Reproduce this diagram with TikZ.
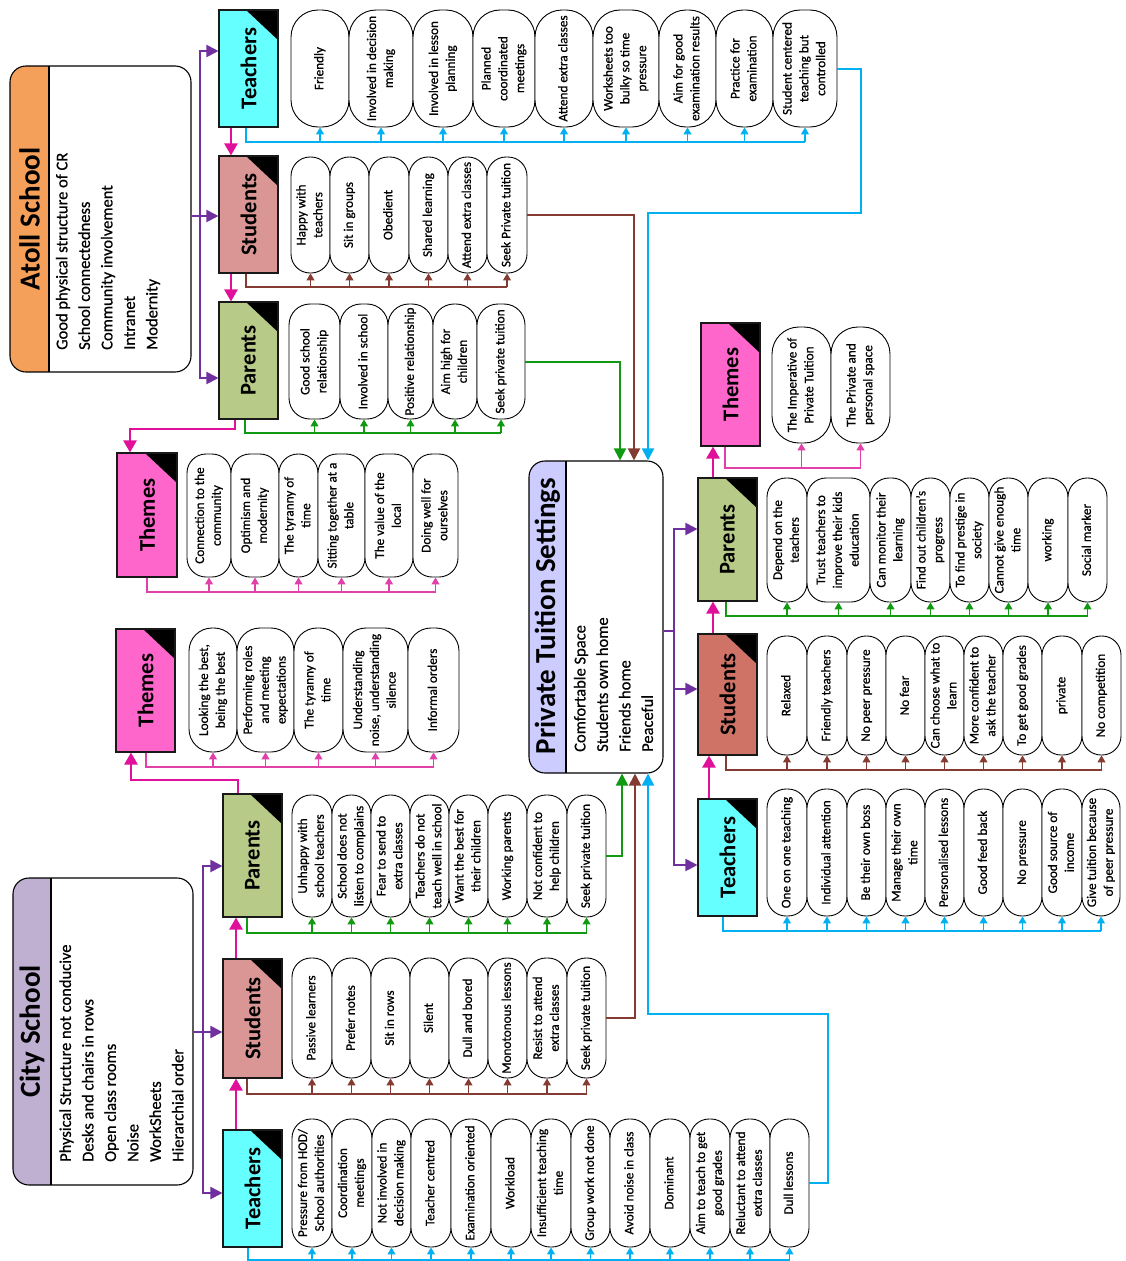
\documentclass[tikz,border=0pt]{standalone}
\usepackage{fontspec}
\setmainfont{Carlito}
\newfontfamily\heavyfam{Carlito}[FakeBold=0.7]
\usetikzlibrary{arrows.meta}
\definecolor{cteach}{HTML}{66FFFF}
\definecolor{cstud}{HTML}{D99694}
\definecolor{cstudP}{HTML}{CF7367}
\definecolor{cpar}{HTML}{B7CA87}
\definecolor{ctheme}{HTML}{FF66CC}
\definecolor{catoll}{HTML}{F5A05A}
\definecolor{ccity}{HTML}{BFB0D2}
\definecolor{cpt}{HTML}{CCCCFF}
\definecolor{lblue}{HTML}{00B0F0}
\definecolor{lbrown}{HTML}{843C32}
\definecolor{lgreen}{HTML}{119911}
\definecolor{lpink}{HTML}{E040A8}
\definecolor{lpurple}{HTML}{7030A0}
\definecolor{lmag}{HTML}{E0109A}
\newcommand\pillfnt{\heavyfam\fontsize{13.2}{16.8}\selectfont}
\newcommand\hdrfnt{\fontsize{22.5}{27}\selectfont\bfseries}
\newcommand\ttlfnt{\fontsize{29}{34}\selectfont\bfseries}
\newcommand\bodyfnt{\heavyfam\fontsize{16.5}{22.5}\selectfont}
\tikzset{
 pill/.style={draw, fill=white, line width=0.9pt, inner sep=0pt, font=\pillfnt},
 hdrbox/.style={draw=black!90, line width=1.1pt, inner sep=0pt, font=\hdrfnt,
   path picture={\fill[black] (path picture bounding box.north east) -- ++(-32,0) -- ++(32,30) -- cycle;}},
 purpA/.style={draw=lpurple, line width=2pt, -{Triangle[width=12pt,length=12pt]}},
 magA/.style={draw=lmag, line width=2.4pt, -{Triangle[width=13pt,length=12pt]}},
 blueA/.style={draw=lblue, line width=2pt, -{Triangle[width=12pt,length=12pt]}},
 brownA/.style={draw=lbrown, line width=2pt, -{Triangle[width=12pt,length=12pt]}},
 greenA/.style={draw=lgreen, line width=2pt, -{Triangle[width=12pt,length=12pt]}},
 tb/.style={draw=lblue, line width=1.1pt},
 sb/.style={draw=lbrown, line width=1.1pt},
 pb/.style={draw=lgreen, line width=1.1pt},
 thb/.style={draw=lpink, line width=1.1pt},
 ttl/.style={rotate=90, font=\ttlfnt, inner sep=0pt},
 body/.style={rotate=90, anchor=west, align=left, inner sep=0pt, font=\bodyfnt}
}
% name, x1, x2, y1, y2, radius, text
\newcommand\pill[7]{\node[pill, rounded corners=#6pt, minimum width={(#3-#2)*1pt}, minimum height={(#5-#4)*1pt}] (#1) at ({(#2+#3)/2},{(#4+#5)/2}) {\rotatebox{90}{\begin{tabular}{@{}c@{}}#7\end{tabular}}};}
% name, x1, y1, x2, y2, colour, text
\newcommand\hdr[7]{\node[hdrbox, fill=#6, minimum width={(#4-#2)*1pt}, minimum height={(#5-#3)*1pt}] (#1) at ({(#2+#4)/2},{(#3+#5)/2}) {\rotatebox{90}{#7}};}
% name, x1, y1, x2, y2, band x, colour
\newcommand\bigbox[7]{\node[draw, line width=1.1pt, rounded corners=16pt, fill=white, inner sep=0pt, minimum width={(#4-#2)*1pt}, minimum height={(#5-#3)*1pt},
 path picture={\fill[#7, sharp corners] (path picture bounding box.north west) rectangle ([xshift={(#6-#2)*1pt}]path picture bounding box.south west);
 \draw[line width=1.1pt, sharp corners] ([xshift={(#6-#2)*1pt}]path picture bounding box.north west) -- ([xshift={(#6-#2)*1pt}]path picture bounding box.south west);}]
 (#1) at ({(#2+#4)/2},{(#3+#5)/2}) {};}
% prefix, count, bus coordinate, style
\newcommand\busrow[4]{\draw[#4] (#1.south -| #3) -- (#3) -- (#1#2.south |- #3);
 \foreach \k in {1,...,#2}{\draw[#4,-{Triangle[width=8pt,length=7pt]}] (#1\k.south |- #3) -- (#1\k.south);}}
\begin{document}
\begin{tikzpicture}[x=1pt,y=-1pt]
\fill[white] (0,0) rectangle (1125,1261);
\useasboundingbox (0,0) rectangle (1125,1261);

% big boxes
\bigbox{atoll}{10}{66}{191}{372}{49}{catoll}
\bigbox{city}{13}{878}{193}{1185}{51}{ccity}
\bigbox{pt}{529}{461}{663}{773}{566}{cpt}
\node[ttl] (atollT) at (29.5,219) {Atoll School};
\node[ttl] (cityT) at (32,1031.5) {City School};
\node[ttl] (ptT) at (547.5,616) {Private Tuition Settings};
\node[body] (atollB) at (108,350) {Good physical structure of CR\\School connectedness\\Community involvement\\Intranet\\Modernity};
\node[body] (cityB) at (121.5,1162) {Physical Structure not conducive\\Desks and chairs in rows\\Open class rooms\\Noise\\WorkSheets\\Hierarchial order};
\node[body] (ptB) at (613.5,752) {Comfortable Space\\Students own home\\Friends home\\Peaceful};

% headers
\hdr{tA}{219}{10}{278}{127}{cteach}{Teachers}
\hdr{sA}{219}{156}{278}{273}{cstud}{Students}
\hdr{pA}{219}{302}{278}{419}{cpar}{Parents}
\hdr{thA}{117}{453}{177}{577}{ctheme}{Themes}
\hdr{thC}{116}{629}{175}{752}{ctheme}{Themes}
\hdr{pC}{223}{794}{282}{917}{cpar}{Parents}
\hdr{sC}{223}{959}{282}{1078}{cstud}{Students}
\hdr{tC}{223}{1130}{282}{1247}{cteach}{Teachers}
\hdr{thP}{701}{323}{760}{446}{ctheme}{Themes}
\hdr{pP}{698}{478}{757}{601}{cpar}{Parents}
\hdr{sP}{698}{634}{757}{755}{cstudP}{Students}
\hdr{tP}{698}{799}{757}{916}{cteach}{Teachers}

% Atoll teachers
\pill{tA1}{291}{349}{10}{127}{27}{Friendly}
\pill{tA2}{349}{413}{10}{127}{27}{Involved in decision\\making}
\pill{tA3}{413}{473}{10}{127}{27}{Involved in lesson\\planning}
\pill{tA4}{473}{535}{10}{127}{27}{Planned\\coordinated\\meetings}
\pill{tA5}{535}{593}{10}{127}{27}{Attend extra classes}
\pill{tA6}{593}{659}{10}{127}{27}{Worksheets too\\bulky so time\\pressure}
\pill{tA7}{659}{716}{10}{127}{27}{Aim for good\\examination results}
\pill{tA8}{716}{773}{10}{127}{27}{Practice for\\examination}
\pill{tA9}{773}{837}{10}{127}{27}{Student centered\\teaching but\\controlled}
% Atoll students
\pill{sA1}{291}{330}{157}{273}{19}{Happy with\\teachers}
\pill{sA2}{330}{369}{157}{273}{19}{Sit in groups}
\pill{sA3}{369}{409}{157}{273}{19}{Obedient}
\pill{sA4}{409}{448}{157}{273}{19}{Shared learning}
\pill{sA5}{448}{487}{157}{273}{19}{Attend extra classes}
\pill{sA6}{487}{527}{157}{273}{19}{Seek Private tuition}
% Atoll parents
\pill{pA1}{289}{340}{304}{419}{21}{Good school\\relationship}
\pill{pA2}{340}{388}{304}{419}{21}{Involved in school}
\pill{pA3}{388}{433}{304}{419}{21}{Positive relationship}
\pill{pA4}{433}{477}{304}{419}{21}{Aim high for\\children}
\pill{pA5}{477}{525}{304}{419}{21}{Seek private tuition}
% Atoll themes
\pill{thA1}{187}{231}{454}{577}{19}{Connection to the\\community}
\pill{thA2}{231}{279}{454}{577}{19}{Optimism and\\modernity}
\pill{thA3}{279}{318}{454}{577}{19}{The tyranny of\\time}
\pill{thA4}{318}{365}{454}{577}{19}{Sitting together at a\\table}
\pill{thA5}{365}{413}{454}{577}{19}{The value of the\\local}
\pill{thA6}{413}{458}{454}{577}{19}{Doing well for\\ourselves}
% City themes
\pill{thC1}{189}{237}{628}{752}{23}{Looking the best,\\being the best}
\pill{thC2}{237}{294}{628}{752}{23}{Performing roles\\and meeting\\expectations}
\pill{thC3}{294}{343}{628}{752}{23}{The tyranny of\\time}
\pill{thC4}{343}{408}{628}{752}{23}{Understanding\\noise, understanding\\silence}
\pill{thC5}{408}{459}{628}{752}{23}{Informal orders}
% City parents
\pill{pC1}{292}{332}{795}{917}{19}{Unhappy with\\school teachers}
\pill{pC2}{332}{371}{795}{917}{19}{School does not\\listen to complains}
\pill{pC3}{371}{410}{795}{917}{19}{Fear to send to\\extra classes}
\pill{pC4}{410}{449}{795}{917}{19}{Teachers do not\\teach well in school}
\pill{pC5}{449}{488}{795}{917}{19}{Want the best for\\their children}
\pill{pC6}{488}{527}{795}{917}{19}{Working parents}
\pill{pC7}{527}{567}{795}{917}{19}{Not confident to\\help children}
\pill{pC8}{567}{606}{795}{917}{19}{Seek private tuition}
% City students
\pill{sC1}{292}{332}{958}{1078}{19}{Passive learners}
\pill{sC2}{332}{371}{958}{1078}{19}{Prefer notes}
\pill{sC3}{371}{410}{958}{1078}{19}{Sit in rows}
\pill{sC4}{410}{449}{958}{1078}{19}{Silent}
\pill{sC5}{449}{488}{958}{1078}{19}{Dull and bored}
\pill{sC6}{488}{527}{958}{1078}{19}{Monotonous lessons}
\pill{sC7}{527}{567}{958}{1078}{19}{Resist to attend\\extra classes}
\pill{sC8}{567}{606}{958}{1078}{19}{Seek private tuition}
% City teachers
\pill{tC1}{292}{332}{1119}{1247}{19}{Pressure from HOD/\\School authorities}
\pill{tC2}{332}{372}{1119}{1247}{19}{Coordination\\meetings}
\pill{tC3}{372}{411}{1119}{1247}{19}{Not involved in\\decision making}
\pill{tC4}{411}{451}{1119}{1247}{19}{Teacher centred}
\pill{tC5}{451}{491}{1119}{1247}{19}{Examination oriented}
\pill{tC6}{491}{531}{1119}{1247}{19}{Workload}
\pill{tC7}{531}{571}{1119}{1247}{19}{Insufficient teaching\\time}
\pill{tC8}{571}{610}{1119}{1247}{19}{Group work not done}
\pill{tC9}{610}{650}{1119}{1247}{19}{Avoid noise in class}
\pill{tC10}{650}{690}{1119}{1247}{19}{Dominant}
\pill{tC11}{690}{730}{1119}{1247}{19}{Aim to teach to get\\good grades}
\pill{tC12}{730}{770}{1119}{1247}{19}{Reluctant to attend\\extra classes}
\pill{tC13}{770}{809}{1119}{1247}{19}{Dull lessons}
% PT themes
\pill{thP1}{772}{831}{327}{443}{27}{The Imperative of\\Private Tuition}
\pill{thP2}{831}{890}{327}{443}{27}{The Private and\\personal space}
% PT parents
\pill{pP1}{767}{807}{478}{602}{19}{Depend on the\\teachers}
\pill{pP2}{807}{870}{478}{602}{19}{Trust teachers to\\improve their kids\\education}
\pill{pP3}{870}{911}{478}{602}{19}{Can monitor their\\learning}
\pill{pP4}{911}{950}{478}{602}{19}{Find out children’s\\progress}
\pill{pP5}{950}{989}{478}{602}{19}{To find prestige in\\society}
\pill{pP6}{989}{1028}{478}{602}{19}{Cannot give enough\\time}
\pill{pP7}{1028}{1068}{478}{602}{19}{working}
\pill{pP8}{1068}{1107}{478}{602}{19}{Social marker}
% PT students
\pill{sP1}{767}{807}{636}{755}{19}{Relaxed}
\pill{sP2}{807}{847}{636}{755}{19}{Friendly teachers}
\pill{sP3}{847}{886}{636}{755}{19}{No peer pressure}
\pill{sP4}{886}{925}{636}{755}{19}{No fear}
\pill{sP5}{925}{964}{636}{755}{19}{Can choose what to\\learn}
\pill{sP6}{964}{1003}{636}{755}{19}{More confident to\\ask the teacher}
\pill{sP7}{1003}{1042}{636}{755}{19}{To get good grades}
\pill{sP8}{1042}{1082}{636}{755}{19}{private}
\pill{sP9}{1082}{1121}{636}{755}{19}{No competition}
% PT teachers
\pill{tP1}{767}{807}{789}{916}{19}{One on one teaching}
\pill{tP2}{807}{847}{789}{916}{19}{Individual attention}
\pill{tP3}{847}{886}{789}{916}{19}{Be their own boss}
\pill{tP4}{886}{925}{789}{916}{19}{Manage their own\\time}
\pill{tP5}{925}{964}{789}{916}{19}{Personalised lessons}
\pill{tP6}{964}{1003}{789}{916}{19}{Good feed back}
\pill{tP7}{1003}{1042}{789}{916}{19}{No pressure}
\pill{tP8}{1042}{1082}{789}{916}{19}{Good source of\\income}
\pill{tP9}{1082}{1120}{789}{916}{19}{Give tuition because\\of peer pressure}

% bus rows
\coordinate (btA) at (246,142); \busrow{tA}{9}{btA}{tb}
\coordinate (bsA) at (246,287); \busrow{sA}{6}{bsA}{sb}
\coordinate (bpA) at (245,433); \busrow{pA}{5}{bpA}{pb}
\coordinate (bthA) at (147,592); \busrow{thA}{6}{bthA}{thb}
\coordinate (bthC) at (146,767); \busrow{thC}{5}{bthC}{thb}
\coordinate (bpC) at (247,933); \busrow{pC}{8}{bpC}{pb}
\coordinate (bsC) at (247,1094); \busrow{sC}{8}{bsC}{sb}
\coordinate (btC) at (248,1260); \busrow{tC}{13}{btC}{tb}
\coordinate (bthP) at (725,468); \busrow{thP}{2}{bthP}{thb}
\coordinate (bpP) at (726,616); \busrow{pP}{8}{bpP}{pb}
\coordinate (bsP) at (726,770); \busrow{sP}{9}{bsP}{sb}
\coordinate (btP) at (723,931); \busrow{tP}{9}{btP}{tb}

% purple connectors
\coordinate (aJ) at (200,216); \coordinate (aT) at (200,51); \coordinate (aP) at (200,378);
\draw[purpA] (atoll.east |- aJ) -- (aJ) -- (aT) -- (tA.west |- aT);
\draw[purpA] (atoll.east |- aJ) -- (sA.west |- aJ);
\draw[purpA] (atoll.east |- aJ) -- (aJ) -- (aP) -- (pA.west |- aP);
\coordinate (cJ) at (203,1032); \coordinate (cPy) at (203,866); \coordinate (cTy) at (203,1193);
\draw[purpA] (city.east |- cJ) -- (cJ) -- (cPy) -- (pC.west |- cPy);
\draw[purpA] (city.east |- cJ) -- (sC.west |- cJ);
\draw[purpA] (city.east |- cJ) -- (cJ) -- (cTy) -- (tC.west |- cTy);
\coordinate (pJ) at (674,631); \coordinate (pPy) at (674,529); \coordinate (pSy) at (674,689); \coordinate (pTy) at (674,865);
\draw[purpA] (pt.east |- pJ) -- (pJ) -- (pPy) -- (pP.west |- pPy);
\draw[purpA] (pt.east |- pJ) -- (pJ) -- (pSy) -- (sP.west |- pSy);
\draw[purpA] (pt.east |- pJ) -- (pJ) -- (pTy) -- (tP.west |- pTy);

% magenta connectors
\coordinate (mA) at (231,0);
\draw[magA] (tA.south -| mA) -- (sA.north -| mA);
\draw[magA] (sA.south -| mA) -- (pA.north -| mA);
\coordinate (m1) at (235,429); \coordinate (m2) at (130,429);
\draw[magA] (pA.south -| m1) -- (m1) -- (m2) -- (thA.north -| m2);
\coordinate (mC) at (236,0);
\draw[magA] (tC.north -| mC) -- (sC.south -| mC);
\draw[magA] (sC.north -| mC) -- (pC.south -| mC);
\coordinate (m3) at (238,780); \coordinate (m4) at (131,780);
\draw[magA] (pC.north -| m3) -- (m3) -- (m4) -- (thC.south -| m4);
\coordinate (mP1) at (709,0); \coordinate (mP2) at (713,0);
\draw[magA] (tP.north -| mP1) -- (sP.south -| mP1);
\draw[magA] (sP.north -| mP2) -- (pP.south -| mP2);
\draw[magA] (pP.north -| mP2) -- (thP.south -| mP2);

% connectors into private tuition settings
\coordinate (b2) at (861,213); \coordinate (b3) at (648,213);
\draw[blueA] (tA9.east) -| (b2) -- (b3) -- (pt.north -| b3);
\coordinate (br1) at (634,0);
\draw[brownA] (sA6.east) -| (pt.north -| br1);
\coordinate (g1) at (620,0);
\draw[greenA] (pA5.east) -| (pt.north -| g1);
\coordinate (g2) at (622,0);
\draw[greenA] (pC8.east) -| (pt.south -| g2);
\coordinate (br2) at (635,0);
\draw[brownA] (sC8.east) -| (pt.south -| br2);
\coordinate (bl1) at (828,1014); \coordinate (bl2) at (648,1014);
\draw[blueA] (tC13.east) -| (bl1) -- (bl2) -- (pt.south -| bl2);
\end{tikzpicture}
\end{document}
